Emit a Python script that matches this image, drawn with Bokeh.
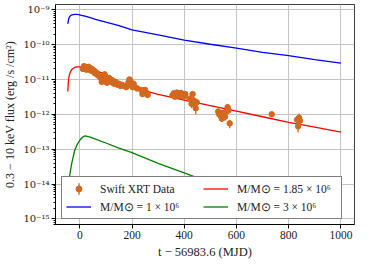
import numpy as np
from bokeh.plotting import figure
from bokeh.models import (Range1d, FixedTicker, CustomJSTickFormatter, Legend, LegendItem,
                          ColumnDataSource)
from bokeh.embed import file_html
from bokeh.resources import INLINE

# ---------------- data ----------------
# Swift XRT observations (t - 56983.6 MJD, flux in 1e-12 erg/s/cm^2)
obs_t = [12, 16, 19, 22, 25, 28, 31, 34, 37, 40, 43, 46, 50, 54, 58, 62, 66, 70,
         80, 84, 88, 92, 95, 98, 101, 104, 108, 112, 116, 120, 124, 128, 132, 136, 140,
         145, 150, 156, 162, 170, 178, 186, 190, 194, 198, 202, 206, 212, 220,
         236, 240, 244, 250, 254, 260,
         355, 360, 364, 368, 372, 376, 380, 384, 388, 392, 398, 404,
         420, 428, 432, 436, 440, 444, 448,
         530, 534, 540, 544, 548, 556, 562, 566, 570, 574,
         735, 832, 836, 840, 843]
obs_f = [20, 24, 21, 23, 19, 22, 20, 23, 19, 21, 18, 20, 17, 18, 15, 16, 14, 13,
         11, 8.5, 9.5, 13, 14, 12, 10, 8, 9, 11, 10, 8.5, 9.5, 8, 7.5, 8.5, 7.8,
         7, 7.5, 6.5, 7, 6.5, 6, 8, 10, 9, 7, 6, 7.5, 6, 5.5,
         5, 3.8, 4.5, 5, 4.2, 3.6,
         3.5, 4, 3.2, 3.8, 4.2, 3.6, 4, 3.4, 4.1, 3.7, 3.2, 3.8,
         2.8, 2.0, 3.8, 2.5, 2.2, 1.5, 2.2,
         1.2, 1.0, 0.9, 0.75, 1.1, 0.85, 1.2, 1.6, 1.3, 0.55,
         1.0, 0.7, 0.45, 0.8, 0.65]
obs_e = [2, 2.5, 2, 2.5, 2, 2, 2, 2.5, 2, 2, 2, 2, 1.8, 1.8, 1.6, 1.6, 1.5, 1.4,
         1.2, 1, 1, 1.4, 1.5, 1.3, 1.1, 0.9, 1, 1.2, 1.1, 0.9, 1, 0.9, 0.8, 0.9, 0.8,
         0.8, 0.8, 0.7, 0.8, 0.7, 0.7, 0.8, 1, 0.9, 0.7, 0.7, 0.8, 0.6, 0.6,
         0.6, 0.5, 0.6, 0.6, 0.5, 0.5,
         0.4, 0.5, 0.4, 0.4, 0.5, 0.4, 0.5, 0.4, 0.5, 0.4, 0.4, 0.5,
         0.6, 0.5, 0.6, 0.7, 0.6, 0.5, 0.6,
         0.25, 0.2, 0.2, 0.15, 0.25, 0.2, 0.25, 0.3, 0.25, 0.15,
         0.15, 0.2, 0.15, 0.25, 0.2]
UNIT = 1e-12

# model light curves (t, flux in erg/s/cm^2)
model_t = [-46, -44, -42, -40, -35, -30, -20, -10, 0, 10, 20, 40, 60, 100, 150,
           200, 300, 400, 500, 600, 700, 800, 900, 1000]
m1_flux = [3.9e-10, 4.8e-10, 5.6e-10, 6.1e-10, 6.8e-10, 7.1e-10, 7.35e-10, 7.3e-10,
           7.1e-10, 6.8e-10, 6.5e-10, 5.9e-10, 5.3e-10, 4.4e-10, 3.5e-10,
           2.65e-10, 1.9e-10, 1.35e-10, 1.02e-10, 7.9e-11, 6.0e-11, 4.8e-11, 3.7e-11, 2.95e-11]
m185_flux = [4.5e-12, 8.0e-12, 1.1e-11, 1.35e-11, 1.7e-11, 1.95e-11, 2.2e-11, 2.3e-11,
             2.3e-11, 2.28e-11, 2.2e-11, 2.0e-11, 1.8e-11, 1.4e-11, 8.5e-12,
             6.0e-12, 3.7e-12, 2.54e-12, 1.77e-12, 1.23e-12, 8.5e-13, 5.9e-13, 4.3e-13, 3.1e-13]
m3_flux = [6e-15, 9e-15, 1.2e-14, 1.5e-14, 2.6e-14, 4.2e-14, 9e-14, 1.35e-13,
           1.8e-13, 2.2e-13, 2.4e-13, 2.2e-13, 1.95e-13, 1.5e-13, 1.07e-13,
           7.9e-14, 3.9e-14, 2.1e-14, 1.1e-14, 6.3e-15, 3.9e-15, 2.6e-15, 1.8e-15, 1.28e-15]

x_ticks = [0, 200, 400, 600, 800, 1000]
y_exponents = [-15, -14, -13, -12, -11, -10, -9]

labels = ["Swift XRT Data",
          "M/M\u2299 = 1 \u00d7 10\u2076",
          "M/M\u2299 = 1.85 \u00d7 10\u2076",
          "M/M\u2299 = 3 \u00d7 10\u2076"]

# ---------------- figure ----------------
FONT = "Liberation Serif"
p = figure(width=358, height=261, output_backend="svg", toolbar_location=None,
           y_axis_type="log",
           x_range=Range1d(-93, 1052), y_range=Range1d(6.9e-16, 1.41e-9),
           min_border_left=54, min_border_right=4, min_border_top=4, min_border_bottom=30)
p.background_fill_color = "white"
p.border_fill_color = "white"
p.outline_line_color = "#404040"
p.outline_line_width = 1

y_major = [10.0 ** e for e in y_exponents]
y_minor = [m * 10.0 ** e for e in range(y_exponents[0] - 1, y_exponents[-1] + 1) for m in range(2, 10)]
p.yaxis.ticker = FixedTicker(ticks=y_major, minor_ticks=y_minor)
p.xaxis.ticker = FixedTicker(ticks=x_ticks)
p.yaxis.formatter = CustomJSTickFormatter(code="""
const e = Math.round(Math.log10(tick));
const sup = {'-':'\u207b','0':'\u2070','1':'\u00b9','2':'\u00b2','3':'\u00b3','4':'\u2074',
             '5':'\u2075','6':'\u2076','7':'\u2077','8':'\u2078','9':'\u2079'};
return '10' + String(e).split('').map(c => sup[c]).join('');
""")

for ax in (p.xaxis, p.yaxis):
    ax.axis_line_color = "black"
    ax.major_tick_line_color = "black"
    ax.major_tick_out = 4
    ax.major_tick_in = 0
    ax.minor_tick_out = 2
    ax.minor_tick_in = 0
    ax.major_label_text_color = "#222222"
    ax.axis_label_text_font = FONT
    ax.axis_label_text_font_style = "normal"
    ax.axis_label_text_color = "#222222"
    ax.major_label_standoff = 2
    ax.axis_label_standoff = 3
p.xaxis.major_label_text_font = FONT
p.xaxis.major_label_text_font_size = "11.5px"
p.yaxis.major_label_text_font = "DejaVu Serif"
p.yaxis.major_label_text_font_size = "10px"
p.xaxis.minor_tick_line_color = None
p.yaxis.minor_tick_line_color = "black"
p.xaxis.axis_label = "t \u2212 56983.6 (MJD)"
p.xaxis.axis_label_text_font_size = "12.5px"
p.yaxis.axis_label = "0.3 \u2212 10 keV flux (erg /s /cm\u00b2)"
p.yaxis.axis_label_text_font_size = "12px"

p.grid.grid_line_color = "#c4c4c4"
p.grid.grid_line_width = 1

# models
r1 = p.line(model_t, m1_flux, line_color="blue", line_width=1.3)
r185 = p.line(model_t, m185_flux, line_color="red", line_width=1.3)
r3 = p.line(model_t, m3_flux, line_color="green", line_width=1.3)

# observations with error bars
f = np.array(obs_f) * UNIT
e = np.array(obs_e) * UNIT
src = ColumnDataSource(dict(t=obs_t, f=f, lo=f - e, hi=f + e))
OR = "#d2691e"
p.segment("t", "lo", "t", "hi", source=src, line_color=OR, line_width=1.3)
rd = p.scatter("t", "f", source=src, size=5.5, fill_color=OR, line_color=OR)
# legend-only glyph: a thin tall ellipse stands for the vertical error bar (never on screen)
rbar = p.ellipse(x=[np.nan], y=[np.nan], width=1.2, height=12,
                 width_units="screen", height_units="screen",
                 fill_color=OR, line_color=OR, line_width=0.5)

# legend fills column by column: col 1 = data, 1e6 ; col 2 = 1.85e6, 3e6
legend = Legend(items=[LegendItem(label=labels[0], renderers=[rbar, rd]),
                       LegendItem(label=labels[1], renderers=[r1]),
                       LegendItem(label=labels[2], renderers=[r185]),
                       LegendItem(label=labels[3], renderers=[r3])],
                ncols=2, location=(6, 5))
legend.label_text_font = FONT
legend.label_text_font_size = "11.5px"
legend.label_text_color = "#222222"
legend.glyph_width = 25
legend.glyph_height = 15
legend.label_standoff = 9
legend.label_height = 15
legend.label_width = 100
legend.spacing = 3
legend.padding = 4
legend.margin = 0
legend.border_line_color = "black"
legend.border_line_width = 1
legend.background_fill_color = "white"
legend.background_fill_alpha = 1
p.add_layout(legend)

open("out.html", "w").write(file_html(p, INLINE))
